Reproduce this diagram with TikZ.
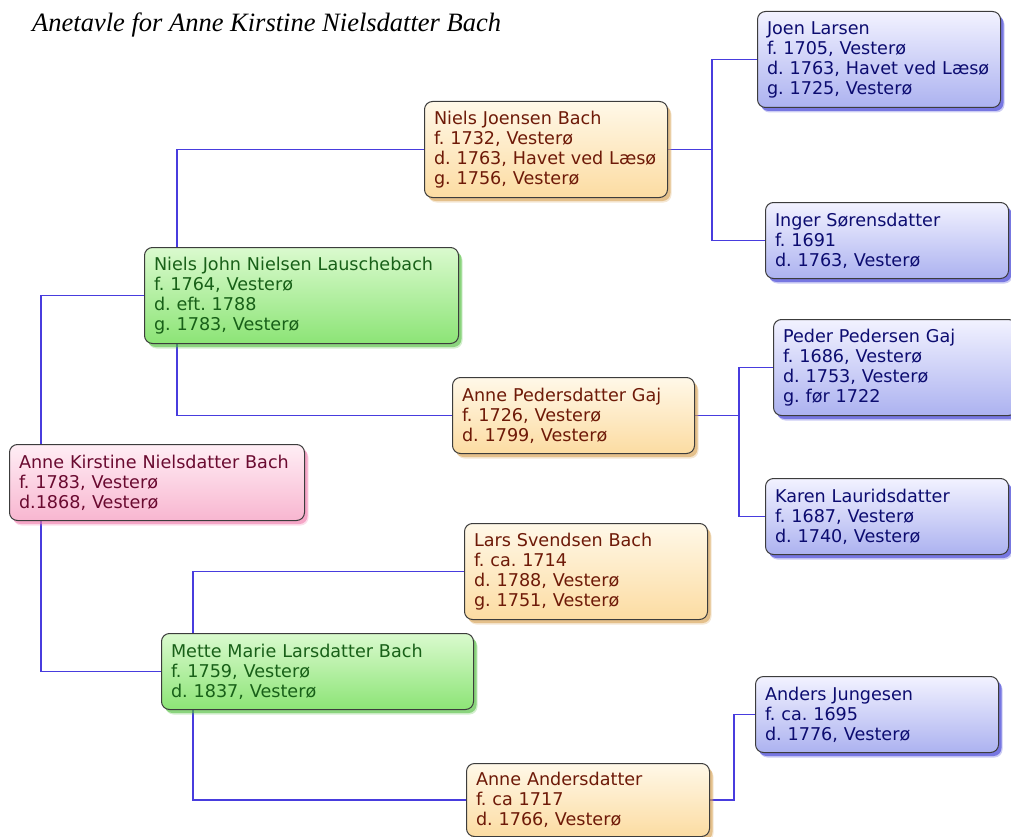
\documentclass[tikz,border=0pt]{standalone}
\usepackage{fontspec}
\setmainfont{Liberation Serif}
\newfontfamily\boxfam{DejaVu Sans}
\usetikzlibrary{shadows,backgrounds}
\frenchspacing
\definecolor{conncol}{RGB}{72,60,222}
\definecolor{boxborder}{RGB}{60,60,60}
% orange
\definecolor{otop}{RGB}{255,248,232}
\definecolor{obot}{RGB}{252,220,162}
\definecolor{oshad}{RGB}{215,160,80}
\definecolor{otext}{RGB}{110,26,8}
% green
\definecolor{gtop}{RGB}{218,250,206}
\definecolor{gbot}{RGB}{140,228,118}
\definecolor{gshad}{RGB}{80,190,60}
\definecolor{gtext}{RGB}{24,96,24}
% blue
\definecolor{btop}{RGB}{242,242,255}
\definecolor{bbot}{RGB}{172,178,240}
\definecolor{bshad}{RGB}{50,50,210}
\definecolor{btext}{RGB}{12,12,112}
% pink
\definecolor{ptop}{RGB}{255,238,245}
\definecolor{pbot}{RGB}{248,182,208}
\definecolor{pshad}{RGB}{240,120,170}
\definecolor{ptext}{RGB}{106,10,48}
\tikzset{
  person/.style={draw=boxborder, line width=1pt, rounded corners=8pt,
    shading=axis, anchor=north west, align=left,
    inner xsep=9.5pt, inner ysep=0pt,
    font=\boxfam\fontsize{17.6}{20}\selectfont\frenchspacing},
  softshadow/.style={
    drop shadow={shadow xshift=4pt, shadow yshift=-5pt, fill=#1, opacity=.25},
    drop shadow={shadow xshift=3pt, shadow yshift=-3.5pt, fill=#1, opacity=.55}},
  obox/.style={person, top color=otop, bottom color=obot, text=otext, softshadow=oshad},
  gbox/.style={person, top color=gtop, bottom color=gbot, text=gtext, softshadow=gshad},
  bbox/.style={person, top color=btop, bottom color=bbot, text=btext, softshadow=bshad},
  pbox/.style={person, top color=ptop, bottom color=pbot, text=ptext, softshadow=pshad},
  conn/.style={draw=conncol, line width=1.3pt},
  titletext/.style={anchor=base west, inner sep=0pt,
    font=\itshape\fontsize{26.5}{30}\selectfont}
}
\begin{document}
\begin{tikzpicture}[x=1pt,y=-1pt]
\useasboundingbox (0,0) rectangle (1011,837);

\node[titletext] (title) at (32,32) {Anetavle for Anne Kirstine Nielsdatter Bach};

% generation 1
\node[pbox, minimum width=295, minimum height=76, text width=276] (akb) at (9,444)
  {Anne Kirstine Nielsdatter Bach\\f. 1783, Vesterø\\d.1868, Vesterø};
% generation 2
\node[gbox, minimum width=314, minimum height=96, text width=295] (njl) at (144,247)
  {\mbox{Niels John Nielsen Lauschebach}\\f. 1764, Vesterø\\d. eft. 1788\\g. 1783, Vesterø};
\node[gbox, minimum width=312, minimum height=76, text width=293] (mml) at (161,633)
  {Mette Marie Larsdatter Bach\\f. 1759, Vesterø\\d. 1837, Vesterø};
% generation 3
\node[obox, minimum width=243, minimum height=96, text width=224] (njb) at (424,101)
  {Niels Joensen Bach\\f. 1732, Vesterø\\\mbox{d. 1763, Havet ved Læsø}\\g. 1756, Vesterø};
\node[obox, minimum width=242, minimum height=76, text width=223] (apg) at (452,377)
  {Anne Pedersdatter Gaj\\f. 1726, Vesterø\\d. 1799, Vesterø};
\node[obox, minimum width=243, minimum height=96, text width=224] (lsb) at (464,523)
  {Lars Svendsen Bach\\f. ca. 1714\\d. 1788, Vesterø\\g. 1751, Vesterø};
\node[obox, minimum width=243, minimum height=73, text width=224] (aa) at (466,763)
  {Anne Andersdatter\\f. ca 1717\\d. 1766, Vesterø};
% generation 4
\node[bbox, minimum width=243, minimum height=96, text width=224] (jl) at (757,11)
  {Joen Larsen\\f. 1705, Vesterø\\\mbox{d. 1763, Havet ved Læsø}\\g. 1725, Vesterø};
\node[bbox, minimum width=243, minimum height=76, text width=224] (is) at (765,202)
  {Inger Sørensdatter\\f. 1691\\d. 1763, Vesterø};
\node[bbox, minimum width=243, minimum height=96, text width=224] (ppg) at (773,319)
  {Peder Pedersen Gaj\\f. 1686, Vesterø\\d. 1753, Vesterø\\g. før 1722};
\node[bbox, minimum width=243, minimum height=76, text width=224] (kl) at (765,478)
  {Karen Lauridsdatter\\f. 1687, Vesterø\\d. 1740, Vesterø};
\node[bbox, minimum width=243, minimum height=76, text width=224] (aj) at (755,676)
  {Anders Jungesen\\f. ca. 1695\\d. 1776, Vesterø};

\begin{scope}[on background layer]
  \draw[conn] (njl.west) -| ([xshift=32pt]akb.west) |- (mml.west);
  \draw[conn] (njb.west) -| ([xshift=33pt]njl.west) |- (apg.west);
  \draw[conn] (lsb.west) -| ([xshift=32pt]mml.west) |- (aa.west);
  \draw[conn] (njb.east) -- ([xshift=44pt]njb.east);
  \draw[conn] (jl.west) -| ([xshift=44pt]njb.east) |- (is.west);
  \draw[conn] (apg.east) -- ([xshift=44pt]apg.east);
  \draw[conn] (ppg.west) -| ([xshift=44pt]apg.east) |- (kl.west);
  \draw[conn] (aa.east) -| ([xshift=24pt]aa.east) |- (aj.west);
\end{scope}
\end{tikzpicture}
\end{document}
